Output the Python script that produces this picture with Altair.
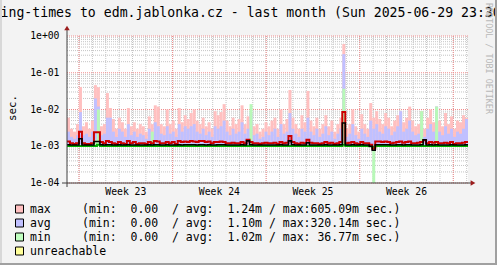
import altair as alt
import pandas as pd

# ---------------- data (milliseconds, one value per ~5.4 h bin over the last 30 days) -------------
max_ms = [6.0, 3.0, 2.5, 4.0, 41, 3.5, 4.5, 3.0, 5.0, 46,
          40, 3.5, 4.0, 28, 11, 5.5, 3.0, 6.0, 4.5, 3.0,
          11, 3.5, 4.5, 3.0, 4.0, 3.5, 2.5, 6.5, 4.0, 13,
          12, 4.0, 3.5, 10, 4.0, 5.0, 3.0, 11, 4.5, 7.0,
          5.5, 8.0, 10, 5.0, 4.0, 6.0, 3.5, 4.5, 3.0, 9.0,
          7.0, 8.5, 14, 5.0, 3.5, 6.0, 4.0, 5.5, 13, 4.0,
          6.5, 5.0, 3.5, 4.0, 2.5, 3.0, 4.5, 3.5, 5.0, 6.0,
          3.0, 10, 4.0, 5.5, 34, 6.0, 4.0, 3.0, 7.0, 4.5,
          32, 5.0, 3.5, 6.0, 3.0, 4.0, 7.0, 3.5, 5.0, 2.5,
          4.0, 6.0, 605.09, 3.0, 4.0, 10, 3.5, 2.5, 7.5, 4.0,
          3.0, 15, 6.0, 9.0, 5.5, 4.0, 8.0, 6.0, 3.5, 5.0,
          7.0, 9.0, 4.5, 6.0, 12, 5.0, 3.5, 4.0, 9.0, 3.0,
          6.0, 10, 4.5, 12, 5.0, 3.5, 8.0, 4.0, 6.5, 3.0,
          5.0, 4.5, 7.0, 6.0]
avg_ms = [2.5, 1.8, 1.6, 2.0, 8.5, 2.0, 2.2, 1.8, 2.5, 20,
          12, 2.0, 2.2, 6.0, 6.0, 2.5, 1.8, 3.0, 2.5, 1.8,
          4.0, 2.0, 2.5, 1.8, 2.2, 2.0, 1.6, 3.0, 2.2, 4.5,
          3.5, 2.2, 2.0, 3.5, 2.2, 2.5, 1.8, 4.0, 2.5, 3.5,
          3.0, 3.5, 4.0, 2.5, 2.2, 3.0, 2.0, 2.5, 1.8, 3.5,
          3.0, 3.5, 5.0, 2.5, 2.0, 3.0, 2.2, 2.5, 4.5, 2.2,
          3.0, 8.0, 2.0, 2.2, 1.6, 1.8, 2.5, 2.0, 2.5, 3.0,
          1.8, 4.0, 2.2, 2.5, 8.0, 3.0, 2.2, 1.8, 3.0, 2.5,
          6.0, 2.5, 2.0, 3.0, 1.8, 2.2, 3.5, 2.0, 2.5, 1.6,
          2.2, 3.0, 320.14, 1.8, 2.2, 4.0, 2.0, 1.6, 3.0, 2.2,
          1.8, 5.0, 3.0, 4.0, 2.5, 2.2, 3.5, 3.0, 2.0, 2.5,
          3.5, 9.0, 2.5, 3.0, 5.0, 2.5, 2.0, 2.2, 3.5, 1.8,
          3.0, 4.0, 2.5, 12, 2.5, 2.0, 3.5, 2.2, 3.0, 1.8,
          2.5, 2.2, 3.0, 5.5]
min_ms = [1.0, 1.0, 1.0, 1.0, 1.0, 1.0, 1.0, 1.0, 1.0, 1.5,
          10, 1.0, 1.0, 1.0, 1.0, 1.0, 1.0, 1.0, 1.0, 1.0,
          1.0, 1.0, 1.0, 1.0, 1.0, 1.0, 1.0, 1.0, 2.5, 1.0,
          1.0, 1.0, 1.0, 1.0, 1.0, 1.0, 1.0, 1.0, 1.0, 1.0,
          1.0, 1.0, 1.0, 1.0, 1.0, 1.0, 1.0, 1.0, 1.0, 1.0,
          1.0, 1.0, 1.0, 1.0, 1.0, 1.0, 1.0, 1.0, 1.0, 1.0,
          1.0, 14, 1.0, 1.0, 1.0, 1.0, 1.0, 1.0, 1.0, 1.0,
          1.0, 1.0, 1.0, 1.0, 1.0, 1.0, 1.0, 1.0, 1.0, 1.0,
          1.0, 1.0, 1.0, 1.0, 1.0, 1.0, 1.0, 1.0, 1.0, 1.0,
          1.0, 1.0, 36.77, 1.0, 1.0, 1.0, 1.0, 1.0, 1.0, 1.0,
          1.0, 1.0, 0.0, 1.0, 1.0, 1.0, 1.0, 1.0, 1.0, 1.0,
          1.0, 1.0, 1.0, 1.0, 1.0, 1.0, 1.0, 1.0, 9.0, 1.0,
          1.0, 1.0, 1.0, 12, 1.0, 1.0, 1.0, 1.0, 1.0, 1.0,
          1.0, 1.0, 1.0, 1.0]
red_ms = [1.35, 1.2, 1.15, 1.2, 2.5, 1.2, 1.15, 1.15, 1.2, 2.4,
          2.4, 1.3, 1.2, 1.4, 1.3, 1.2, 1.15, 1.3, 1.2, 1.15,
          1.4, 1.2, 1.3, 1.15, 1.2, 1.2, 1.15, 1.3, 1.2, 1.4,
          1.35, 1.2, 1.2, 1.3, 1.2, 1.3, 1.15, 1.4, 1.3, 1.35,
          1.3, 1.4, 1.35, 1.3, 1.4, 1.4, 1.3, 1.35, 1.2, 1.3,
          1.3, 1.35, 1.3, 1.2, 1.2, 1.25, 1.2, 1.2, 1.3, 1.2,
          1.5, 1.3, 1.2, 1.2, 1.15, 1.2, 1.25, 1.2, 1.2, 1.25,
          1.15, 1.3, 1.2, 1.25, 1.9, 1.3, 1.2, 1.15, 1.25, 1.2,
          1.5, 1.25, 1.2, 1.2, 1.15, 1.2, 1.3, 1.2, 1.25, 1.15,
          1.2, 1.3, 8.5, 1.2, 1.25, 1.3, 1.2, 1.15, 1.3, 1.2,
          1.2, 1.1, 0.85, 1.35, 1.35, 1.3, 1.35, 1.3, 1.2, 1.25,
          1.3, 1.35, 1.25, 1.3, 1.35, 1.2, 1.2, 1.25, 1.3, 1.45,
          1.2, 1.3, 1.25, 1.3, 1.2, 1.2, 1.25, 1.2, 1.3, 1.15,
          1.2, 1.2, 1.25, 1.3]
black_ms = [1.1, 1.08, 1.08, 1.08, 1.6, 1.08, 1.08, 1.08, 1.08, 1.35,
            1.35, 1.1, 1.08, 1.1, 1.1, 1.08, 1.08, 1.1, 1.08, 1.08,
            1.1, 1.08, 1.08, 1.08, 1.08, 1.08, 1.08, 1.1, 1.08, 1.1,
            1.1, 1.08, 1.08, 1.1, 1.08, 1.08, 1.08, 1.1, 1.08, 1.1,
            1.1, 1.1, 1.1, 1.08, 1.1, 1.1, 1.08, 1.1, 1.08, 1.08,
            1.1, 1.1, 1.1, 1.08, 1.08, 1.08, 1.08, 1.08, 1.1, 1.08,
            1.4, 1.1, 1.08, 1.08, 1.08, 1.08, 1.08, 1.08, 1.08, 1.08,
            1.08, 1.1, 1.08, 1.08, 1.4, 1.1, 1.08, 1.08, 1.08, 1.08,
            1.25, 1.08, 1.08, 1.08, 1.08, 1.08, 1.1, 1.08, 1.08, 1.08,
            1.08, 1.1, 4.3, 1.08, 1.08, 1.1, 1.08, 1.08, 1.1, 1.08,
            1.08, 1.0, 0.78, 1.1, 1.1, 1.1, 1.1, 1.1, 1.08, 1.08,
            1.1, 1.1, 1.08, 1.1, 1.1, 1.08, 1.08, 1.08, 1.1, 1.5,
            1.08, 1.1, 1.08, 1.1, 1.08, 1.08, 1.08, 1.08, 1.1, 1.08,
            1.08, 1.08, 1.08, 1.1]
green_ms = [1.02, 1.02, 1.02, 1.02, 1.02, 1.02, 1.02, 1.02, 1.02, 1.02,
            1.1, 1.02, 1.02, 1.02, 1.02, 1.02, 1.02, 1.02, 1.02, 1.02,
            1.02, 1.02, 1.02, 1.02, 1.02, 1.02, 1.02, 1.02, 1.02, 1.02,
            1.02, 1.02, 1.02, 1.02, 1.02, 1.02, 1.02, 1.02, 1.02, 1.02,
            1.02, 1.02, 1.02, 1.02, 1.02, 1.02, 1.02, 1.02, 1.02, 1.02,
            1.02, 1.02, 1.02, 1.02, 1.02, 1.02, 1.02, 1.02, 1.02, 1.02,
            1.02, 1.02, 1.02, 1.02, 1.02, 1.02, 1.02, 1.02, 1.02, 1.02,
            1.02, 1.02, 1.02, 1.02, 1.02, 1.02, 1.02, 1.02, 1.02, 1.02,
            1.02, 1.02, 1.02, 1.02, 1.02, 1.02, 1.02, 1.02, 1.02, 1.02,
            1.02, 1.02, 1.1, 1.02, 1.02, 1.02, 1.02, 1.02, 1.02, 1.02,
            1.02, 1.0, 0.95, 1.02, 1.02, 1.02, 1.02, 1.02, 1.02, 1.02,
            1.02, 1.02, 1.02, 1.02, 1.02, 1.02, 1.02, 1.02, 1.02, 1.02,
            1.02, 1.02, 1.02, 1.02, 1.02, 1.02, 1.02, 1.02, 1.02, 1.02,
            1.02, 1.02, 1.02, 1.02]

DAYS = 30.0
week_labels = ["Week 23", "Week 24", "Week 25", "Week 26"]
week_bounds = [0.9, 7.9, 14.9, 21.9, 28.9]       # Monday 00:00, days since graph start
day_bounds = [0.9 + k for k in range(-1, 30) if 0 <= 0.9 + k <= DAYS]
decades = [1e-4, 1e-3, 1e-2, 1e-1, 1.0]
decade_labels = ["1e-04", "1e-03", "1e-02", "1e-01", "1e+00"]
minor_h = [m * d for d in decades[:-1] for m in range(2, 10)]

legend_names = ["max", "avg", "min", "unreachable"]
legend_text = ["(min:  0.00  / avg:  1.24m / max:605.09m sec.)",
               "(min:  0.00  / avg:  1.10m / max:320.14m sec.)",
               "(min:  0.00  / avg:  1.02m / max: 36.77m sec.)",
               ""]
legend_colors = ["#ffc0c0", "#c0c0ff", "#c0ffc0", "#ffff99"]

title_text = "Ping-times to edm.jablonka.cz - last month (Sun 2025-06-29 23:30:00)"

NB = "\u00a0"  # keep runs of spaces in monospaced text

# ---------------- frames ----------------
n = len(max_ms)
W, H = 401, 147
bins = pd.DataFrame({
    "t0": [i * DAYS / n for i in range(n)],
    "t1": [(i + 1) * DAYS / n for i in range(n)],
    "max": [v / 1000 for v in max_ms],
    "avg": [v / 1000 for v in avg_ms],
    "minv": [v / 1000 for v in min_ms],
    "lo": [v / 1000 for v in green_ms],
})
bins["gtop"] = [lo if m == 0 else m for m, lo in zip(bins["minv"], bins["lo"])]
bins["gbot"] = [1e-9 if m == 0 else lo for m, lo in zip(bins["minv"], bins["lo"])]


def line_frame(vals):
    t = [i * DAYS / n for i in range(n)] + [DAYS]
    v = [x / 1000 for x in vals] + [vals[-1] / 1000]
    return pd.DataFrame({"t": t, "v": v})


xs = alt.Scale(domain=[0, DAYS], nice=False, zero=False)
ys = alt.Scale(type="log", domain=[1e-4, 1], nice=False, clamp=True)


def X(f):
    return alt.X(f, type="quantitative", scale=xs, axis=None)


def Y(f):
    return alt.Y(f, type="quantitative", scale=ys, axis=None)


mono = "DejaVu Sans Mono"
one = pd.DataFrame({"a": [0]})

bg = alt.Chart(one).mark_rect(color="white").encode(
    x=alt.value(0), x2=alt.value(W), y=alt.value(0), y2=alt.value(H))

vgrid_minor = alt.Chart(pd.DataFrame({"t": day_bounds})).mark_rule(
    color="#c4c4c4", strokeDash=[1, 1], strokeWidth=1).encode(x=X("t"))
hgrid_minor = alt.Chart(pd.DataFrame({"v": minor_h})).mark_rule(
    color="#c4c4c4", strokeDash=[1, 1], strokeWidth=1).encode(y=Y("v"))
vgrid_major = alt.Chart(pd.DataFrame({"t": week_bounds})).mark_rule(
    color="#f08c8c", strokeDash=[1, 1], strokeWidth=1).encode(x=X("t"))
hgrid_major = alt.Chart(pd.DataFrame({"v": decades})).mark_rule(
    color="#f08c8c", strokeDash=[1, 1], strokeWidth=1).encode(y=Y("v"))

ylabels = alt.Chart(pd.DataFrame({"v": decades, "lab": decade_labels})).mark_text(
    font=mono, fontSize=9.75, align="right", baseline="middle", color="#000000").encode(
    y=Y("v"), x=alt.value(-7.5), text="lab:N")

pink = alt.Chart(bins).mark_rect(color="#ffc0c0").encode(x=X("t0"), x2="t1", y=Y("max"), y2="lo")
blue = alt.Chart(bins).mark_rect(color="#c0c0ff").encode(x=X("t0"), x2="t1", y=Y("avg"), y2="lo")
green = alt.Chart(bins).mark_rect(color="#b8f8b8").encode(x=X("t0"), x2="t1", y=Y("gtop"), y2="gbot")

red_line = alt.Chart(line_frame(red_ms)).mark_line(
    interpolate="step-after", color="#cc0000", strokeWidth=2).encode(x=X("t"), y=Y("v"))
black_line = alt.Chart(line_frame(black_ms)).mark_line(
    interpolate="step-after", color="#000000", strokeWidth=1.6).encode(x=X("t"), y=Y("v"))
green_line = alt.Chart(line_frame(green_ms)).mark_line(
    interpolate="step-after", color="#00b000", strokeWidth=2).encode(x=X("t"), y=Y("v"))

axis_x = alt.Chart(one).mark_rule(color="#404040").encode(
    x=alt.value(-5), x2=alt.value(W + 3), y=alt.value(H))
axis_y = alt.Chart(one).mark_rule(color="#404040").encode(
    y=alt.value(-6), y2=alt.value(H + 4), x=alt.value(0))
arrow_r = alt.Chart(one).mark_point(shape="triangle-right", filled=True, color="#9b1c1c", size=30,
                                    opacity=1).encode(x=alt.value(W + 5), y=alt.value(H))
arrow_u = alt.Chart(one).mark_point(shape="triangle-up", filled=True, color="#9b1c1c", size=30,
                                    opacity=1).encode(x=alt.value(0), y=alt.value(-8))

week_df = pd.DataFrame({"t": [(a + b) / 2 for a, b in zip(week_bounds[:-1], week_bounds[1:])],
                        "lab": [s.replace(" ", NB) for s in week_labels]})
week_text = alt.Chart(week_df).mark_text(font=mono, fontSize=9.75, baseline="alphabetic",
                                         align="center", color="#000000").encode(
    x=X("t"), y=alt.value(195 - 36), text="lab:N")

title = alt.Chart(pd.DataFrame({"s": [title_text.replace(" ", NB)]})).mark_text(
    font=mono, fontSize=13.2, align="left", baseline="alphabetic", color="#000000").encode(
    x=alt.value(-67 - 7.4), y=alt.value(17 - 36), text="s:N")

ylabel = alt.Chart(pd.DataFrame({"s": ["sec."]})).mark_text(
    font=mono, fontSize=10.8, angle=270, align="center", baseline="alphabetic", color="#000000").encode(
    x=alt.value(15.5 - 67), y=alt.value(108 - 36), text="s:N")

credit = alt.Chart(pd.DataFrame({"s": ["RRDTOOL / TOBI OETIKER".replace(" ", NB)]})).mark_text(
    font=mono, fontSize=8.4, angle=90, align="left", baseline="alphabetic", color="#b8b8b8").encode(
    x=alt.value(486 - 67), y=alt.value(3 - 36), text="s:N")

# frame shading of the canvas edges
frame_l = alt.Chart(one).mark_rule(color="#d8d8d8", strokeWidth=2).encode(
    x=alt.value(1 - 67), y=alt.value(-36), y2=alt.value(265 - 36))
frame_r = alt.Chart(one).mark_rule(color="#a0a0a0", strokeWidth=2).encode(
    x=alt.value(496 - 67), y=alt.value(-36), y2=alt.value(265 - 36))
frame_b = alt.Chart(one).mark_rule(color="#a0a0a0", strokeWidth=2).encode(
    y=alt.value(264 - 36), x=alt.value(-67), x2=alt.value(497 - 67))

layers = [bg, vgrid_minor, hgrid_minor, vgrid_major, hgrid_major, pink, blue, green,
          green_line, red_line, black_line, ylabels, axis_x, axis_y, arrow_r, arrow_u,
          week_text, title, ylabel, credit, frame_l, frame_r, frame_b]

for i, (nm, txt, col) in enumerate(zip(legend_names, legend_text, legend_colors)):
    yb = 213 - 36 + 14 * i
    box = alt.Chart(one).mark_rect(color=col, stroke="#000000", strokeWidth=1).encode(
        x=alt.value(15.5 - 67), x2=alt.value(23.5 - 67), y=alt.value(yb - 8), y2=alt.value(yb))
    t1 = alt.Chart(pd.DataFrame({"s": [nm]})).mark_text(
        font=mono, fontSize=11.5, align="left", baseline="alphabetic", color="#000000").encode(
        x=alt.value(30 - 67), y=alt.value(yb), text="s:N")
    layers += [box, t1]
    if txt:
        t2 = alt.Chart(pd.DataFrame({"s": [txt.replace(" ", NB)]})).mark_text(
            font=mono, fontSize=11.5, align="left", baseline="alphabetic", color="#000000").encode(
            x=alt.value(82 - 67), y=alt.value(yb), text="s:N")
        layers.append(t2)

chart = alt.layer(*layers).properties(
    width=W, height=H,
    autosize=alt.AutoSizeParams(type="none"),
    padding={"left": 67, "top": 36, "right": 29, "bottom": 82},
    background="#f3f3f3",
).configure_view(stroke=None)

chart.save("out.html", embed_options={"renderer": "svg", "actions": False})
